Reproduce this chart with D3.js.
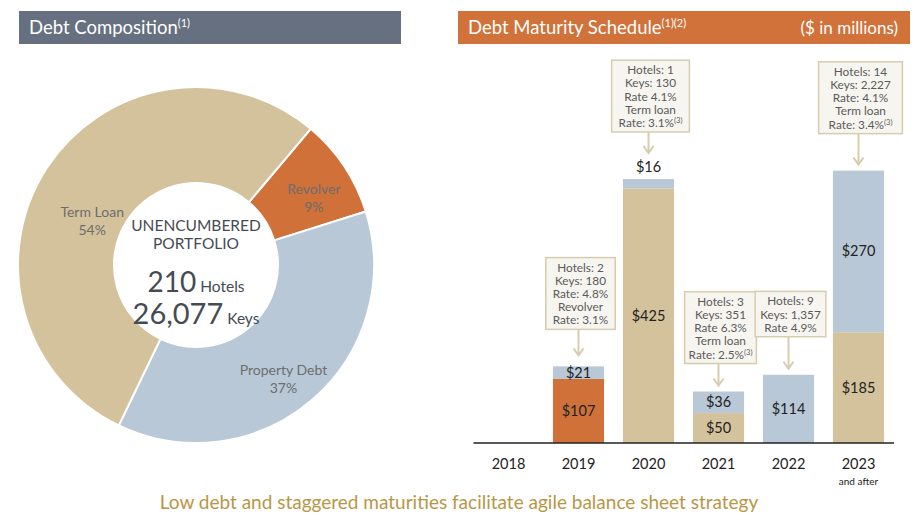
<!DOCTYPE html>
<html><head><meta charset="utf-8">
<script src="https://cdn.jsdelivr.net/npm/d3@7"></script>
<style>
body{margin:0;background:#fff;}
svg{display:block;font-family:Lato,"Noto Sans",sans-serif;}
</style></head>
<body><svg id="c" width="922" height="521"></svg>
<script>
// ---- Data ----
const donutCategories = ["Revolver", "Property Debt", "Term Loan"];
const donutValues = [9, 37, 54];
const centerLines = ["UNENCUMBERED", "PORTFOLIO"];
const centerHotels = "210";
const centerKeys = "26,077";

const years = ["2018", "2019", "2020", "2021", "2022", "2023"];
const revolverValues = [0, 107, 0, 0, 0, 0];
const termLoanValues = [0, 0, 425, 50, 0, 185];
const propertyDebtValues = [0, 21, 16, 36, 114, 270];

const annotationYears = ["2019", "2020", "2021", "2022", "2023"];
const annotationLines = [
  ["Hotels: 2", "Keys: 180", "Rate: 4.8%", "Revolver", "Rate: 3.1%"],
  ["Hotels: 1", "Keys: 130", "Rate 4.1%", "Term loan", "Rate: 3.1%|(3)"],
  ["Hotels: 3", "Keys: 351", "Rate 6.3%", "Term loan", "Rate: 2.5%|(3)"],
  ["Hotels: 9", "Keys: 1,357", "Rate 4.9%"],
  ["Hotels: 14", "Keys: 2,227", "Rate: 4.1%", "Term loan", "Rate: 3.4%|(3)"]
];
const footerText = "Low debt and staggered maturities facilitate agile balance sheet strategy";

// ---- Styles ----
const C = {tan:"#d4c29c", blue:"#b8c8d7", orange:"#d0713a", slate:"#667080",
  hdrOrange:"#d0723a", label:"#6d6d6d", center:"#454b53", boxBg:"#f7f5ef", boxBorder:"#d8ccae",
  boxText:"#5a5a5a", gold:"#b99646"};

const svg = d3.select("#c");

// ---- Headers ----
function header(x, w, color, title, sup) {
  svg.append("rect").attr("x", x).attr("y", 11).attr("width", w).attr("height", 33).attr("fill", color);
  const t = svg.append("text").attr("x", x + 10).attr("y", 34).attr("fill", "#fff").attr("font-size", 18.5);
  t.append("tspan").text(title);
  t.append("tspan").attr("font-size", 11).attr("dy", -7).text(sup);
}
header(19, 382, C.slate, "Debt Composition", "(1)");
header(458, 452, C.hdrOrange, "Debt Maturity Schedule", "(1)(2)");
svg.append("text").attr("x", 898).attr("y", 34).attr("text-anchor", "end").attr("fill", "#fff")
  .attr("font-size", 17).text("($ in millions)");

// ---- Donut ----
const cx = 196, cy = 265, rOut = 178, rIn = 82;
const start = 0.70;
const pie = d3.pie().sort(null).startAngle(start).endAngle(start + 2 * Math.PI);
const arcs = pie(donutValues);
const arc = d3.arc().innerRadius(rIn).outerRadius(rOut);
const labelArc = d3.arc().innerRadius(132).outerRadius(132);
const labelNudge = {"Revolver": [8, 2], "Property Debt": [1, 10], "Term Loan": [7, 24]};
const donutColors = d3.scaleOrdinal().domain(donutCategories).range([C.orange, C.blue, C.tan]);
const g = svg.append("g").attr("transform", `translate(${cx},${cy})`);
g.selectAll("path").data(arcs).join("path")
  .attr("d", arc).attr("fill", (d, i) => donutColors(donutCategories[i]))
  .attr("stroke", "#fff").attr("stroke-width", 2);
g.selectAll("text.lbl").data(arcs).join("text").attr("class", "lbl")
  .attr("transform", (d, i) => {
    const c = labelArc.centroid(d), n = labelNudge[donutCategories[i]];
    return `translate(${c[0] + n[0]},${c[1] + n[1]})`;
  })
  .attr("text-anchor", "middle").attr("fill", C.label).attr("font-size", 14)
  .each(function (d, i) {
    const s = d3.select(this);
    s.append("tspan").attr("x", 0).attr("dy", 0).text(donutCategories[i]);
    s.append("tspan").attr("x", 0).attr("dy", 18).text(donutValues[i] + "%");
  });
// center
centerLines.forEach((l, i) => {
  g.append("text").attr("y", -34 + i * 18).attr("text-anchor", "middle").attr("fill", C.center)
    .attr("font-size", 15.5).text(l);
});
const t1 = g.append("text").attr("y", 27).attr("text-anchor", "middle").attr("fill", C.center);
t1.append("tspan").attr("font-size", 28).text(centerHotels);
t1.append("tspan").attr("font-size", 15.5).text(" Hotels");
const t2 = g.append("text").attr("y", 59).attr("text-anchor", "middle").attr("fill", C.center);
t2.append("tspan").attr("font-size", 29).text(centerKeys);
t2.append("tspan").attr("font-size", 15.5).text(" Keys");

// ---- Bars ----
const x = d3.scaleBand().domain(years).range([473.5, 893.5]).paddingInner(0.27).paddingOuter(0.135);
const y = d3.scaleLinear().domain([0, 441]).range([443, 179]);
const keys = ["revolver", "termLoan", "property"];
const rows = years.map((yr, i) => ({year: yr, revolver: revolverValues[i], termLoan: termLoanValues[i], property: propertyDebtValues[i]}));
const stack = d3.stack().keys(keys)(rows);
const barColor = {revolver: C.orange, termLoan: C.tan, property: C.blue};
const bg = svg.append("g");
stack.forEach(layer => {
  bg.selectAll(null).data(layer.filter(d => d[1] > d[0])).join("rect")
    .attr("x", d => x(d.data.year)).attr("width", x.bandwidth())
    .attr("y", d => y(d[1])).attr("height", d => y(d[0]) - y(d[1]))
    .attr("fill", barColor[layer.key]);
});
// segment labels
stack.forEach(layer => {
  bg.selectAll(null).data(layer.filter(d => d[1] > d[0])).join("text")
    .attr("x", d => x(d.data.year) + x.bandwidth() / 2)
    .attr("y", d => {
      const h = y(d[0]) - y(d[1]);
      return h < 11 ? y(d[1]) - 7 : (y(d[0]) + y(d[1])) / 2 + 5;
    })
    .attr("text-anchor", "middle").attr("font-size", 14.5).attr("fill", "#222")
    .text(d => "$" + (d[1] - d[0]));
});
// axis
const axis = d3.axisBottom(x).tickSize(0).tickPadding(16);
const ag = svg.append("g").attr("transform", `translate(0,${y(0)})`).call(axis);
ag.select(".domain").attr("stroke", "#222").attr("stroke-width", 1.5).attr("d", "M473.5,0H894");
ag.selectAll(".tick text").attr("font-size", 14.5).attr("fill", "#222").attr("font-family", "Lato,'Noto Sans',sans-serif");
svg.append("text").attr("x", x("2023") + x.bandwidth() / 2).attr("y", 485).attr("text-anchor", "middle")
  .attr("font-size", 10).attr("fill", "#222").text("and after");

// ---- Annotations ----
const arrowLen = {"2019": 26, "2020": 21, "2021": 22, "2022": 32, "2023": 31};
const boxPad = {"2019": 14, "2020": 14, "2021": 8, "2022": 10, "2023": 20};
const lineH = 13.2;
annotationYears.forEach((yr, i) => {
  const idx = years.indexOf(yr);
  const total = revolverValues[idx] + termLoanValues[idx] + propertyDebtValues[idx];
  const topSeg = propertyDebtValues[idx];
  let barTop = y(total);
  if (y(total - topSeg) - y(total) < 11) barTop -= 20; // label above bar
  const tip = barTop - (yr === "2019" ? 11 : 6);
  const boxBottom = tip - arrowLen[yr];
  const lines = annotationLines[i];
  const boxH = 14 + (lines.length - 1) * lineH + 5;
  const boxTop = boxBottom - boxH;
  const cxb = x(yr) + x.bandwidth() / 2 + 2;
  const ag2 = svg.append("g");
  const txt = ag2.append("text").attr("text-anchor", "middle").attr("fill", C.boxText).attr("font-size", 11.8);
  lines.forEach((l, j) => {
    const [main, sup] = l.split("|");
    const ts = txt.append("tspan").attr("x", cxb).attr("y", boxTop + 14 + j * lineH);
    ts.append("tspan").text(main);
    if (sup) ts.append("tspan").attr("font-size", 7.5).attr("dy", -4).text(sup);
  });
  const bb = txt.node().getBBox();
  const w = bb.width + boxPad[yr];
  ag2.insert("rect", "text").attr("x", cxb - w / 2).attr("y", boxTop).attr("width", w).attr("height", boxH)
    .attr("fill", C.boxBg).attr("stroke", C.boxBorder).attr("stroke-width", 1.5);
  const ax = x(yr) + x.bandwidth() / 2;
  ag2.append("line").attr("x1", ax).attr("x2", ax).attr("y1", boxBottom).attr("y2", tip)
    .attr("stroke", C.boxBorder).attr("stroke-width", 2);
  ag2.append("path").attr("d", `M${ax - 5},${tip - 7}L${ax},${tip}L${ax + 5},${tip - 7}`)
    .attr("fill", "none").attr("stroke", C.boxBorder).attr("stroke-width", 2);
});

// ---- Footer ----
svg.append("text").attr("x", 459).attr("y", 509).attr("text-anchor", "middle").attr("fill", C.gold)
  .attr("font-size", 19).text(footerText);
</script></body></html>
